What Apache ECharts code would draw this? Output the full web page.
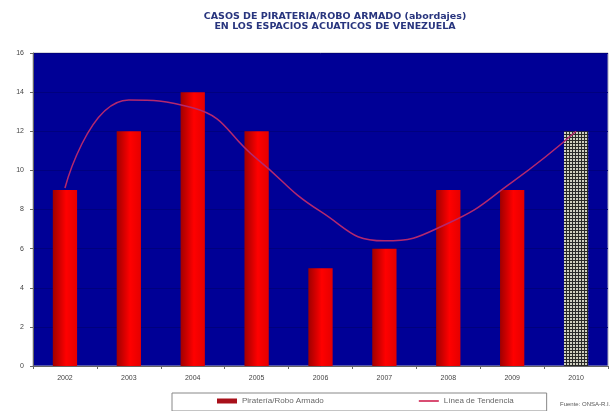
<!DOCTYPE html>
<html><head><meta charset="utf-8">
<script src="https://cdn.jsdelivr.net/npm/echarts@6/dist/echarts.min.js"></script>
<style>html,body{margin:0;padding:0;background:#fff}#c{width:610px;height:411px}</style>
</head><body><div id="c"></div>
<script>
var years = ['2002','2003','2004','2005','2006','2007','2008','2009','2010'];
var casos = [9, 12, 14, 12, 5, 6, 9, 9, 12];
var tendencia = [9.1, 13.6, 13.2, 10.6, 7.9, 6.4, 7.3, 9.4, 12];
var yTicks = [0, 2, 4, 6, 8, 10, 12, 14, 16];

var pc = document.createElement('canvas');
pc.width = 3; pc.height = 3;
var g = pc.getContext('2d');
g.fillStyle = '#2a2a28'; g.fillRect(0,0,3,3);
g.fillStyle = '#cfcfbf'; g.fillRect(0,0,2,2);

var redGrad = {type:'linear', x:0, y:0, x2:1, y2:0, colorStops:[
  {offset:0, color:'#a00000'},{offset:0.55, color:'#ff0000'},{offset:1, color:'#e40000'}]};

var barData = casos.map(function(v, i){
  if (i === casos.length - 1) return {value:v, itemStyle:{color:{image:pc, repeat:'repeat'}}};
  return v;
});

var chart = echarts.init(document.getElementById('c'));
chart.setOption({
  animation:false,
  backgroundColor:'#ffffff',
  title:{
    text:'CASOS DE PIRATERIA/ROBO ARMADO (abordajes)\nEN LOS ESPACIOS ACUATICOS DE VENEZUELA',
    left:330, textAlign:'center', top:7,
    textStyle:{fontFamily:'DejaVu Sans', fontSize:9.5, fontWeight:'bold', color:'#28357e', lineHeight:10}
  },
  graphic:[{type:'text', left:560, top:401, style:{text:'Fuente: ONSA-R.I.', fontSize:6, fill:'#555', fontFamily:'Liberation Sans'}}],
  legend:{
    left:172, top:393, orient:'horizontal',
    padding:[4, 33, 6, 45], itemGap:95,
    borderColor:'#888', borderWidth:1,
    itemWidth:20, itemHeight:5,
    textStyle:{fontSize:8, color:'#666', fontFamily:'Liberation Sans'},
    data:[{name:'Piratería/Robo Armado', icon:'rect', itemStyle:{color:'#a8101a'}},
          {name:'Línea de Tendencia', icon:'path://M0,0h20v1.6h-20z', itemStyle:{color:'#d02050'}}]
  },
  grid:{left:33, right:2, top:53, bottom:45, show:true, backgroundColor:'#000096', borderColor:'#aab', borderWidth:1},
  xAxis:{
    type:'category', data:years,
    axisLine:{lineStyle:{color:'#666'}},
    axisTick:{show:true, length:3, lineStyle:{color:'#666'}},
    axisLabel:{fontSize:7, color:'#444', margin:9, fontFamily:'Liberation Sans'},
    splitLine:{show:false}
  },
  yAxis:{
    type:'value', min:0, max:16, interval:2,
    axisLine:{show:true, lineStyle:{color:'#666'}},
    axisTick:{show:true, length:3, lineStyle:{color:'#666'}},
    axisLabel:{fontSize:7, color:'#444', margin:9, fontFamily:'Liberation Sans',
      formatter:function(v){ return yTicks.indexOf(v) >= 0 ? String(v) : ''; }},
    splitLine:{show:true, lineStyle:{color:'#00007e', width:1}}
  },
  series:[
    {name:'Piratería/Robo Armado', type:'bar', data:barData, barWidth:'38%',
     itemStyle:{color:redGrad}, z:2},
    {name:'Línea de Tendencia', type:'line', data:tendencia, smooth:0.5, symbol:'none',
     lineStyle:{color:'#b4286e', width:1.5}, itemStyle:{color:'#d02050'}, z:3}
  ]
});
</script></body></html>
